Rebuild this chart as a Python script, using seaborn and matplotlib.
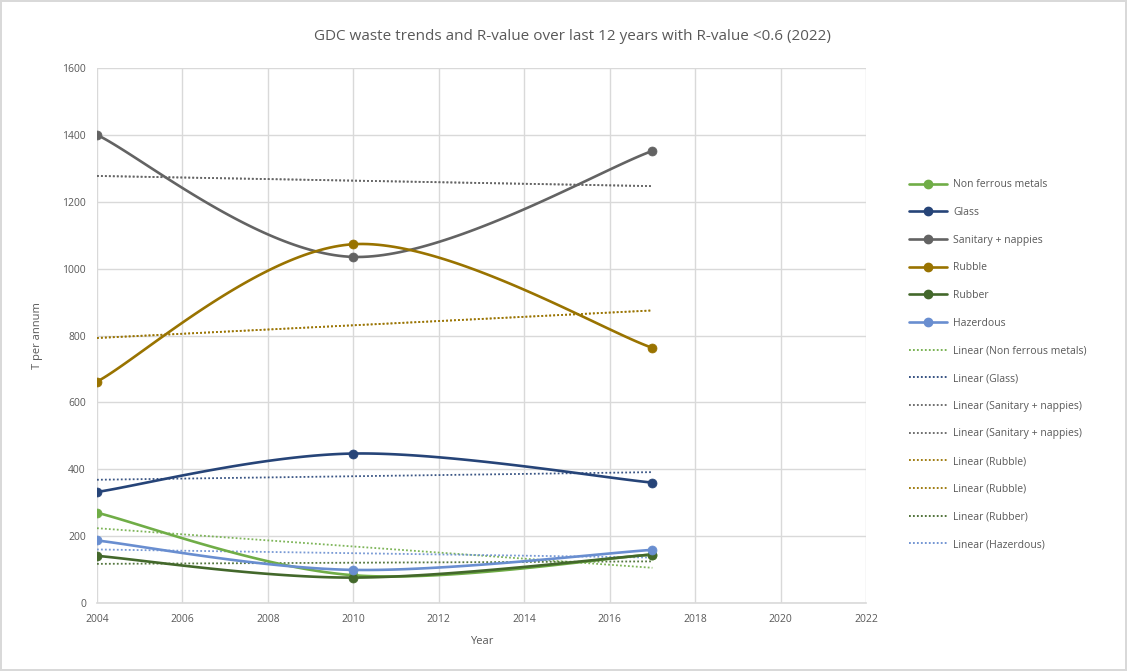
import numpy as np
import pandas as pd
import matplotlib
matplotlib.use("Agg")
import matplotlib.pyplot as plt
from matplotlib.lines import Line2D
import seaborn as sns

# --- data -------------------------------------------------------------
years = [2004, 2010, 2017]
non_ferrous = [270, 83, 145]
glass = [332, 447, 360]
sanitary = [1400, 1035, 1352]
rubble = [662, 1073, 763]
rubber = [141, 76, 145]
hazerdous = [187, 99, 159]

series_names = ["Non ferrous metals", "Glass", "Sanitary + nappies",
                "Rubble", "Rubber", "Hazerdous"]
series_values = [non_ferrous, glass, sanitary, rubble, rubber, hazerdous]
series_colors = ["#70AD47", "#264478", "#636363", "#997300", "#43682B", "#698ED0"]

# trend lines as listed in the legend (two series carry a duplicate fit)
trend_series = ["Non ferrous metals", "Glass", "Sanitary + nappies",
                "Sanitary + nappies", "Rubble", "Rubble", "Rubber", "Hazerdous"]

x_ticks = list(range(2004, 2023, 2))
y_ticks = list(range(0, 1601, 200))

TEXT = "#595959"
GRID = "#D9D9D9"


def smooth_curve(xs, ys, n=60):
    """Catmull-Rom style smoothed path through the given points."""
    p = np.column_stack([xs, ys]).astype(float)
    m = np.zeros_like(p)
    m[1:-1] = (p[2:] - p[:-2]) / 2.0
    m[0] = (p[1] - p[0]) / 2.0
    m[-1] = (p[-1] - p[-2]) / 2.0
    out = []
    for i in range(len(p) - 1):
        t = np.linspace(0, 1, n)[:, None]
        h00 = 2 * t**3 - 3 * t**2 + 1
        h10 = t**3 - 2 * t**2 + t
        h01 = -2 * t**3 + 3 * t**2
        h11 = t**3 - t**2
        seg = h00 * p[i] + h10 * m[i] + h01 * p[i + 1] + h11 * m[i + 1]
        out.append(seg if i == 0 else seg[1:])
    out = np.vstack(out)
    return out[:, 0], out[:, 1]


sns.set_theme(style="white")
plt.rcParams["font.family"] = ["Open Sans", "DejaVu Sans"]

fig = plt.figure(figsize=(11.27, 6.71), dpi=100)
fig.patch.set_facecolor("white")
fig.patch.set_edgecolor(GRID)
fig.patch.set_linewidth(1.5)

W, H = 1127, 671
left, right, top, bottom = 97, 866, 68, 603
ax = fig.add_axes([left / W, 1 - bottom / H, (right - left) / W, (bottom - top) / H])

color_of = dict(zip(series_names, series_colors))
data_of = dict(zip(series_names, series_values))

# dotted linear trend lines (least-squares fits of each series)
for name in trend_series:
    df = pd.DataFrame({"Year": years, "Value": data_of[name]})
    sns.regplot(data=df, x="Year", y="Value", ax=ax, scatter=False, ci=None,
                truncate=True,
                line_kws=dict(color=color_of[name], linestyle=(0, (1, 1.2)),
                              linewidth=1.3, alpha=0.9))

# smoothed series lines with markers
for name, vals, col in zip(series_names, series_values, series_colors):
    sx, sy = smooth_curve(years, vals)
    sns.lineplot(x=sx, y=sy, ax=ax, color=col, linewidth=1.9, sort=False,
                 estimator=None)
    sns.scatterplot(x=years, y=vals, ax=ax, color=col, s=42, edgecolor=col,
                    linewidth=0.5, zorder=5)

ax.set_xlim(2004, 2022)
ax.set_ylim(0, 1600)
ax.set_xticks(x_ticks)
ax.set_yticks(y_ticks)
ax.tick_params(axis="both", labelsize=7.5, colors=TEXT)
ax.tick_params(axis="x", length=4, color=GRID, width=1, pad=4)
ax.tick_params(axis="y", length=0, pad=8)
ax.grid(True, color=GRID, linewidth=1)
ax.set_axisbelow(True)
for s in ["top", "right", "left"]:
    ax.spines[s].set_visible(False)
ax.spines["bottom"].set_color(GRID)
ax.spines["bottom"].set_linewidth(1.2)

ax.set_xlabel("Year", fontsize=8, color=TEXT, labelpad=8)
ax.set_ylabel("T per annum", fontsize=8, color=TEXT, labelpad=14)

fig.text(572 / W, 1 - 36 / H,
         "GDC waste trends and R-value over last 12 years with R-value <0.6 (2022)",
         ha="center", va="center", fontsize=11, color=TEXT)

# legend
handles = []
labels = []
for name, col in zip(series_names, series_colors):
    handles.append(Line2D([], [], color=col, linewidth=1.9, marker="o",
                          markersize=6))
    labels.append(name)
for name in trend_series:
    handles.append(Line2D([], [], color=color_of[name], linewidth=1.3,
                          linestyle=(0, (1, 1.2))))
    labels.append(f"Linear ({name})")

leg = fig.legend(handles, labels, loc="upper left",
                 bbox_to_anchor=(900 / W, 1 - 170 / H), frameon=False,
                 fontsize=7.5, labelspacing=1.6, handlelength=3.6,
                 handletextpad=0.6)
for t in leg.get_texts():
    t.set_color(TEXT)

fig.savefig("out.png", dpi=100, facecolor="white", edgecolor=fig.get_edgecolor())
